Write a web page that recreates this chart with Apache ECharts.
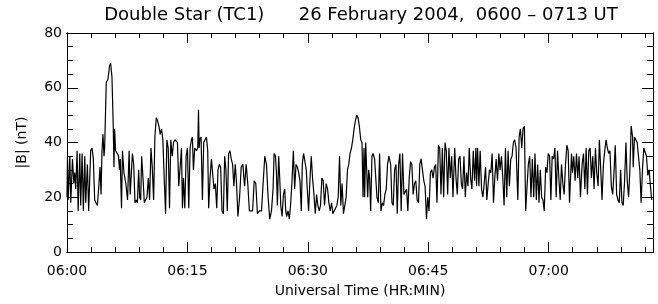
<!DOCTYPE html>
<html>
<head>
<meta charset="utf-8">
<script src="https://cdn.jsdelivr.net/npm/echarts@6/dist/echarts.min.js"></script>
<style>
  html, body { margin: 0; padding: 0; background: #fff; }
  #main { width: 658px; height: 304px; }
</style>
</head>
<body>
<div id="main"></div>
<script>
// time in minutes after 06:00 UT
var timeMin = [
  0.00,0.06,0.15,0.35,0.47,0.68,0.85,0.97,1.09,1.26,
  1.39,1.59,1.71,1.88,2.04,2.21,2.33,2.54,2.70,2.95,
  3.12,3.28,3.45,3.61,3.78,3.94,4.11,4.24,4.36,4.48,
  4.61,4.69,4.89,5.10,5.30,5.43,5.60,5.76,5.85,5.93,
  6.05,6.26,6.42,6.54,6.63,6.79,6.91,7.09,7.33,7.54,
  7.74,7.87,8.15,8.31,8.47,8.64,8.77,8.93,9.05,9.18,
  9.30,9.47,9.63,9.80,9.96,10.13,10.29,10.46,10.62,10.79,
  10.95,11.12,11.28,11.45,11.61,11.78,11.94,12.11,12.28,12.44,
  12.61,12.77,12.93,13.11,13.27,13.43,13.60,13.76,13.92,14.26,
  14.38,14.51,14.67,14.84,15.00,15.17,15.33,15.50,15.62,15.75,
  15.91,16.13,16.29,16.38,16.46,16.54,16.70,16.87,17.03,17.20,
  17.37,17.53,17.65,17.82,17.99,18.15,18.31,18.48,18.65,18.81,
  18.98,19.14,19.31,19.48,19.64,19.80,19.97,20.13,20.29,20.46,
  20.63,20.79,20.96,21.12,21.29,21.50,21.70,21.91,22.12,22.32,
  22.52,22.72,22.92,23.12,23.32,23.52,23.72,23.97,24.23,24.43,
  24.64,24.85,25.05,25.26,25.47,25.67,25.80,25.97,26.09,26.21,
  26.37,26.50,26.63,26.79,26.96,27.12,27.25,27.37,27.53,27.70,
  27.87,28.03,28.20,28.36,28.53,28.70,28.86,29.02,29.19,29.31,
  29.47,29.64,29.81,29.93,30.10,30.26,30.43,30.59,30.76,30.93,
  31.09,31.25,31.42,31.58,31.75,31.92,32.08,32.29,32.46,32.62,
  32.79,32.96,33.12,33.28,33.45,33.62,33.78,33.95,34.11,34.27,
  34.44,34.61,34.77,34.94,35.10,35.26,35.44,35.60,35.76,35.93,
  36.09,36.26,36.42,36.59,36.75,36.88,37.00,37.08,37.21,37.33,
  37.46,37.58,37.70,37.83,37.99,38.12,38.32,38.45,38.61,38.78,
  38.94,39.11,39.28,39.44,39.60,39.77,39.93,40.10,40.32,40.48,
  40.64,40.81,40.98,41.14,41.31,41.47,41.63,41.80,41.97,42.13,
  42.30,42.46,42.63,42.80,42.96,43.12,43.29,43.45,43.62,43.79,
  43.95,44.11,44.28,44.45,44.61,44.78,44.94,45.10,45.27,45.44,
  45.60,45.77,45.93,46.09,46.27,46.43,46.59,46.76,46.92,47.09,
  47.25,47.42,47.58,47.75,47.92,48.08,48.30,48.46,48.62,48.79,
  48.96,49.12,49.28,49.45,49.62,49.78,49.95,50.11,50.28,50.44,
  50.61,50.77,50.94,51.02,51.15,51.31,51.47,51.64,51.81,51.97,
  52.14,52.30,52.47,52.63,52.80,52.96,53.13,53.29,53.46,53.63,
  53.79,53.95,54.12,54.29,54.45,54.62,54.78,54.95,55.11,55.28,
  55.44,55.61,55.77,55.94,56.16,56.32,56.48,56.65,56.81,56.98,
  57.14,57.31,57.47,57.64,57.80,57.97,58.14,58.30,58.47,58.63,
  58.80,58.96,59.13,59.29,59.45,59.63,59.79,59.95,60.12,60.28,
  60.44,60.62,60.78,60.94,61.11,61.27,61.44,61.60,61.77,61.93,
  62.10,62.27,62.43,62.60,62.85,62.97,63.13,63.30,63.47,63.63,
  63.79,63.96,64.17,64.34,64.51,64.67,64.83,65.00,65.17,65.33,
  65.50,65.66,65.83,65.99,66.16,66.32,66.49,66.65,66.82,66.99,
  67.15,67.31,67.48,67.64,67.81,67.98,68.14,68.30,68.47,68.64,
  68.80,68.97,69.13,69.29,69.46,69.63,69.79,69.96,70.12,70.28,
  70.46,70.53,70.70,70.86,71.03,71.19,71.36,71.52,71.69,71.85,
  72.02,72.19,72.35,72.52,72.68,72.84
];

// |B| in nT
var bTotal = [
  20,35,19,35,18,34,25,29,23,37,
  15,36,17,36,15,35,18,32,15,37,
  38,34,19,18,17,23,31,21,37,43,
  35,38,62,63,68,69,64,46,31,45,
  37,36,35,30,34,16,37,29,25,19,
  37,21,36,32,18,19,18,30,20,19,
  35,27,18,18,20,27,19,38,31,19,
  42,49,48,46,43,45,41,27,14,41,
  38,16,41,35,40,41,41,40,24,38,
  16,27,16,35,38,16,38,41,42,30,
  38,37,38,52,38,41,42,19,40,41,
  42,37,16,27,34,34,23,25,16,30,
  32,31,15,14,35,30,15,36,37,34,
  32,24,32,25,13,20,31,32,24,32,
  25,15,15,15,26,25,14,15,15,25,
  35,32,20,12,15,23,36,35,29,17,
  35,27,17,13,21,23,15,13,15,12,
  18,26,37,23,32,31,29,26,15,32,
  36,36,30,23,15,26,35,27,21,14,
  21,17,15,17,27,26,17,25,23,18,
  15,18,14,15,15,17,20,35,17,25,
  14,17,20,30,32,36,38,41,45,48,
  50,49,46,41,40,20,38,20,40,30,
  20,30,27,15,35,36,34,34,20,18,
  36,15,18,17,21,23,32,35,32,18,
  17,30,32,14,32,36,15,36,21,21,
  23,15,27,33,32,21,25,26,19,18,
  32,34,30,26,24,12,20,15,29,30,
  27,31,32,18,39,38,21,38,20,40,
  37,21,38,27,35,20,38,27,21,34,
  35,25,23,35,20,29,24,38,27,23,
  37,26,38,24,38,24,37,23,20,25,
  31,19,25,30,29,36,18,27,34,26,
  36,30,35,27,17,38,20,37,24,34,
  35,40,41,38,19,42,45,38,45,46,
  15,24,32,35,20,34,20,36,19,32,
  18,30,20,19,15,31,29,36,35,19,
  35,34,38,20,37,27,19,32,25,21,
  32,39,37,18,36,29,35,26,36,27,
  35,20,32,36,23,38,21,37,38,27,
  35,23,38,29,24,41,30,19,32,37,
  41,38,36,37,24,21,29,39,21,19,
  18,30,18,17,26,40,26,20,30,46,
  42,31,42,41,40,35,30,18,30,38,
  38,35,28,30,24,19
];

var timeTickLabels = ['06:00', '06:15', '06:30', '06:45', '07:00'];
var fieldTickLabels = ['0', '20', '40', '60', '80'];

var font = 'DejaVu Sans';
var ink = '#000';

var points = [];
for (var i = 0; i < Math.min(timeMin.length, bTotal.length); i++) {
    points.push([timeMin[i], bTotal[i]]);
}

function xAxisFor(grid, pos, step, tickLen, withLabels) {
    return {
        gridIndex: grid,
        type: 'value',
        position: pos,
        min: 0,
        max: 73,
        interval: step,
        axisLine: { show: true, onZero: false, lineStyle: { color: ink, width: 1 } },
        axisTick: { show: true, inside: true, length: tickLen, lineStyle: { color: ink, width: 1 } },
        splitLine: { show: false },
        axisLabel: withLabels ? {
            show: true,
            margin: 12,
            fontFamily: font,
            fontSize: 14,
            color: ink,
            formatter: function (v) {
                return v % 15 === 0 ? timeTickLabels[v / 15] : '';
            }
        } : { show: false }
    };
}

function yAxisFor(grid, pos, step, tickLen, withLabels) {
    return {
        gridIndex: grid,
        type: 'value',
        position: pos,
        min: 0,
        max: 80,
        interval: step,
        axisLine: { show: true, onZero: false, lineStyle: { color: ink, width: 1 } },
        axisTick: { show: true, inside: true, length: tickLen, lineStyle: { color: ink, width: 1 } },
        splitLine: { show: false },
        axisLabel: withLabels ? {
            show: true,
            margin: 5,
            fontFamily: font,
            fontSize: 14,
            color: ink,
            formatter: function (v) { return fieldTickLabels[v / 20]; }
        } : { show: false }
    };
}

var myChart = echarts.init(document.getElementById('main'), null, { renderer: 'canvas' });

var xMain = xAxisFor(0, 'bottom', 15, 10, true);
xMain.name = 'Universal Time (HR:MIN)';
xMain.nameLocation = 'middle';
xMain.nameGap = 32;
xMain.nameTextStyle = { fontFamily: font, fontSize: 14, color: ink };

var yMain = yAxisFor(0, 'left', 20, 11, true);
yMain.name = '|B| (nT)';
yMain.nameLocation = 'middle';
yMain.nameGap = 38;
yMain.nameRotate = 90;
yMain.nameTextStyle = { fontFamily: font, fontSize: 14, color: ink };

myChart.setOption({
    animation: false,
    backgroundColor: '#fff',
    title: {
        text: 'Double Star (TC1)      26 February 2004,  0600 \u2013 0713 UT',
        left: 361,
        top: 6,
        padding: 0,
        textAlign: 'center',
        textStyle: { fontFamily: font, fontSize: 18, fontWeight: 'normal', color: ink }
    },
    grid: [
        { left: 67, right: 5, top: 33, bottom: 52 },
        { left: 67, right: 5, top: 33, bottom: 52 }
    ],
    xAxis: [
        xMain,
        xAxisFor(0, 'top', 15, 10, false),
        xAxisFor(1, 'bottom', 3, 5, false),
        xAxisFor(1, 'top', 3, 5, false)
    ],
    yAxis: [
        yMain,
        yAxisFor(0, 'right', 20, 11, false),
        yAxisFor(1, 'left', 5, 6, false),
        yAxisFor(1, 'right', 5, 6, false)
    ],
    series: [
        {
            name: '|B|',
            type: 'line',
            xAxisIndex: 0,
            yAxisIndex: 0,
            showSymbol: false,
            symbol: 'none',
            lineStyle: { color: ink, width: 1.2 },
            data: points
        },
        {
            type: 'line',
            xAxisIndex: 2,
            yAxisIndex: 2,
            symbol: 'none',
            data: []
        }
    ]
});
</script>
</body>
</html>
